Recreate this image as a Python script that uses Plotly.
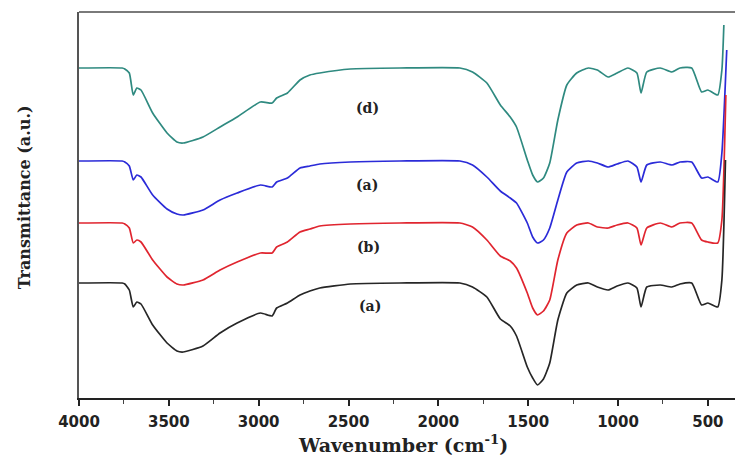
import plotly.graph_objects as go

# Wavenumber grid (cm^-1) shared by all spectra
wavenumber = [4000, 3760, 3745, 3720, 3698, 3678, 3655, 3590, 3510, 3455, 3420, 3310,
              3215, 3120, 2990, 2925, 2900, 2840, 2770, 2715, 2660, 2490, 2215, 1880,
              1810, 1730, 1655, 1600, 1565, 1505, 1475, 1448, 1415, 1380, 1335, 1285,
              1230, 1165, 1115, 1055, 1005, 945, 895, 872, 840, 765, 700, 655, 590,
              535, 500, 445, 422]

# Transmittance (a.u., offset traces)
t_d = [332, 332, 331, 327, 305, 312, 310, 287, 267, 258, 257, 263,
       273, 283, 298, 297, 302, 307, 320, 325, 327, 331, 332, 332,
       328, 317, 295, 283, 273, 240, 225, 218, 222, 237, 280, 315,
       327, 332, 330, 323, 327, 332, 327, 307, 328, 332, 328, 332, 332,
       308, 310, 305, 330]
t_a2 = [239, 239, 238, 234, 220, 225, 223, 205, 191, 186, 185, 190,
        200, 207, 215, 213, 218, 222, 232, 234, 236, 238, 239, 239,
        235, 223, 209, 202, 197, 177, 163, 157, 160, 172, 200, 228,
        237, 239, 237, 233, 236, 239, 233, 218, 235, 238, 235, 238, 238,
        222, 223, 218, 247]
t_b = [177, 177, 176, 172, 157, 160, 158, 140, 123, 116, 115, 120,
       130, 138, 147, 147, 153, 158, 168, 171, 174, 176, 177, 177,
       173, 160, 144, 139, 132, 107, 92, 85, 89, 100, 140, 167,
       175, 177, 173, 172, 175, 177, 172, 155, 172, 177, 173, 177, 177,
       160, 158, 157, 180]
t_a1 = [117, 117, 116, 110, 93, 98, 96, 75, 57, 49, 48, 54,
        67, 77, 87, 84, 92, 97, 105, 109, 112, 116, 117, 117,
        113, 103, 81, 74, 64, 33, 22, 15, 21, 37, 80, 107,
        115, 117, 113, 110, 114, 117, 112, 93, 113, 115, 113, 116, 117,
        95, 97, 93, 120]

# final sharp rise at the low-wavenumber end
end_wn = {"d": 411, "a2": 395, "b": 400, "a1": 402}
end_t = {"d": 375, "a2": 350, "b": 305, "a1": 240}

series = [
    ("d", t_d, "#2f8a80"),
    ("a2", t_a2, "#2b2bd8"),
    ("b", t_b, "#e0252f"),
    ("a1", t_a1, "#262626"),
]

labels = ["(d)", "(a)", "(b)", "(a)"]
label_wn = [2397, 2397, 2390, 2381]
label_t = [292, 215, 153, 94]

fig = go.Figure()
for key, t, color in series:
    fig.add_trace(go.Scatter(
        x=wavenumber + [end_wn[key]], y=t + [end_t[key]],
        mode="lines", line=dict(color=color, width=1.7, shape="spline", smoothing=0.5),
        showlegend=False, hoverinfo="skip"))

for txt, xw, yt in zip(labels, label_wn, label_t):
    fig.add_annotation(x=xw, y=yt, text="<b>%s</b>" % txt, showarrow=False,
                       font=dict(family="DejaVu Serif", size=14, color="#222"))

fig.add_annotation(xref="paper", yref="paper", x=-0.084, y=0.52, text="<b>Transmittance (a.u.)</b>",
                   textangle=-90, showarrow=False, xanchor="center", yanchor="middle",
                   font=dict(family="DejaVu Serif", size=16, color="#222"))
fig.add_annotation(xref="paper", yref="paper", x=0.494, y=-0.118, text="<b>Wavenumber (cm<sup>-1</sup>)</b>",
                   showarrow=False, xanchor="center", yanchor="middle",
                   font=dict(family="DejaVu Serif", size=19, color="#222"))

fig.add_shape(type="line", xref="paper", yref="paper", x0=0, x1=1, y0=1, y1=1,
              line=dict(color="#7a7a7a", width=2))

fig.update_layout(
    width=735, height=459,
    margin=dict(l=79, r=0, t=12, b=61),
    plot_bgcolor="white", paper_bgcolor="white",
    xaxis=dict(range=[4000, 349], tickvals=[4000, 3500, 3000, 2500, 2000, 1500, 1000, 500],
               ticks="outside", ticklen=6, tickwidth=1.5, tickcolor="#222",
               ticklabelstandoff=3,
               minor=dict(tickvals=[3750, 3250, 2750, 2250, 1750, 1250, 750], ticks="outside",
                          ticklen=4, tickwidth=1.2, tickcolor="#444"),
               showline=True, linecolor="#222", linewidth=2, showgrid=False, zeroline=False,
               tickfont=dict(family="DejaVu Sans", size=15, color="#222", weight="bold")),
    yaxis=dict(range=[2, 388], showticklabels=False, ticks="", showline=True,
               linecolor="#555", linewidth=2, showgrid=False, zeroline=False),
)

fig.write_html("out.html")
